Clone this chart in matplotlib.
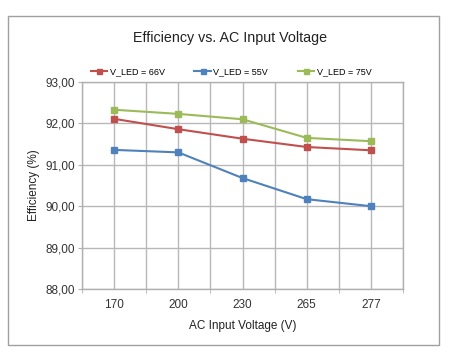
import matplotlib.pyplot as plt
from matplotlib.patches import Rectangle
import numpy as np

# data
voltages = ['170', '200', '230', '265', '277']
eff_66v = [92.11, 91.86, 91.63, 91.43, 91.35]
eff_55v = [91.36, 91.30, 90.68, 90.17, 90.00]
eff_75v = [92.33, 92.23, 92.10, 91.65, 91.57]
y_ticks = [88, 89, 90, 91, 92, 93]

plt.rcParams['font.family'] = ['Liberation Sans', 'DejaVu Sans']

fig = plt.figure(figsize=(4.5, 3.59), dpi=100)
fig.patch.set_facecolor('white')
# outer chart border
fig.patches.append(Rectangle((8 / 450, 1 - 345 / 359), 431 / 450, 329 / 359,
                             transform=fig.transFigure, fill=False,
                             edgecolor='#a0a0a0', linewidth=1.0))

ax = fig.add_axes([82 / 450, 1 - 289 / 359, 321 / 450, 207 / 359])
x = np.arange(len(voltages))

ax.plot(x, eff_66v, color='#c0504d', marker='s', markersize=4.5, linewidth=1.5, label='V_LED = 66V', zorder=3)
ax.plot(x, eff_55v, color='#4f81bd', marker='s', markersize=4.5, linewidth=1.5, label='V_LED = 55V', zorder=3)
ax.plot(x, eff_75v, color='#9bbb59', marker='s', markersize=4.5, linewidth=1.5, label='V_LED = 75V', zorder=3)

ax.set_xlim(-0.5, len(voltages) - 0.5)
ax.set_ylim(88, 93)
ax.set_xticks(x)
ax.set_xticklabels(voltages)
ax.set_xticks(np.arange(-0.5, len(voltages), 1.0), minor=True)
ax.set_yticks(y_ticks)
ax.set_yticklabels(['{:.2f}'.format(v).replace('.', ',') for v in y_ticks])

ax.grid(which='both', axis='x', color='#b8b8b8', linewidth=1.0)
ax.grid(which='major', axis='y', color='#b8b8b8', linewidth=1.0)
ax.set_axisbelow(True)
for s in ax.spines.values():
    s.set_color('#b0b0b0')
    s.set_linewidth(1.0)
ax.tick_params(axis='both', which='both', color='#b0b0b0', length=3, labelsize=8.5, colors='#333333')
ax.tick_params(axis='x', which='major', length=0, pad=7)
ax.tick_params(axis='y', pad=2)

ax.set_xlabel('AC Input Voltage (V)', fontsize=8.5, color='#222222', labelpad=7)
ax.set_ylabel('Efficiency (%)', fontsize=8.5, color='#222222', labelpad=4)
fig.text(230 / 450, 1 - 38 / 359, 'Efficiency vs. AC Input Voltage', ha='center', va='center',
         fontsize=10.3, color='#222222')

ax.legend(loc='lower left', bbox_to_anchor=(0.01, 1.0), ncol=3, frameon=False,
          fontsize=6.5, handlelength=1.8, markerscale=0.8, columnspacing=3.3,
          borderaxespad=0.2, handletextpad=0.3)

plt.savefig('out.png', dpi=100)
